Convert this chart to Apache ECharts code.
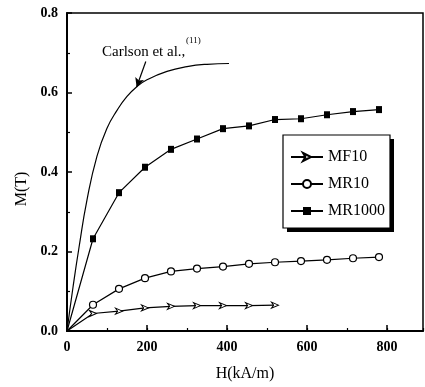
<!DOCTYPE html>
<html>
<head>
<meta charset="utf-8">
<script src="https://cdn.jsdelivr.net/npm/echarts@6/dist/echarts.min.js"></script>
<style>
html,body{margin:0;padding:0;background:#fff;}
#chart{width:425px;height:387px;}
</style>
</head>
<body>
<div id="chart"></div>
<script>
// ---- data ----
const hMF10 = [0, 65, 130, 195, 260, 325, 390, 455, 520];
const mMF10 = [0, 0.044, 0.050, 0.058, 0.062, 0.064, 0.064, 0.064, 0.065];
const hMR = [0, 65, 130, 195, 260, 325, 390, 455, 520, 585, 650, 715, 780];
const mMR10 = [0, 0.066, 0.106, 0.133, 0.150, 0.157, 0.162, 0.169, 0.173, 0.176, 0.179, 0.183, 0.186];
const mMR1000 = [0, 0.232, 0.348, 0.412, 0.457, 0.483, 0.509, 0.516, 0.532, 0.534, 0.544, 0.552, 0.557];
const hCarlson = [0, 15, 30, 50, 75, 100, 125, 150, 175, 200, 250, 300, 350, 405];
const mCarlson = [0, 0.11, 0.21, 0.33, 0.44, 0.51, 0.555, 0.59, 0.615, 0.632, 0.653, 0.665, 0.671, 0.673];
const arrowFrom = [197, 0.678];
const arrowTo = [174, 0.614];
const seriesNames = ['MF10', 'MR10', 'MR1000'];
const xTicks = [0, 200, 400, 600, 800];
const yTicks = [0.0, 0.2, 0.4, 0.6, 0.8];

const SERIF = '"Liberation Serif","DejaVu Serif",serif';

function pairs(xs, ys) {
  return xs.map((x, i) => i === 0 ? { value: [x, ys[i]], symbol: 'none' } : [x, ys[i]]);
}

const lineStyle = { color: '#000', width: 1.2 };

const chart = echarts.init(document.getElementById('chart'), null, { renderer: 'canvas' });
chart.setOption({
  animation: false,
  backgroundColor: '#fff',
  grid: { left: 67, top: 13, width: 356, height: 322, show: true, borderColor: '#000', borderWidth: 1.5, backgroundColor: 'transparent' },
  xAxis: [{
    type: 'value', min: 0, max: 890, interval: 200,
    axisLine: { show: true, lineStyle: { color: '#000', width: 2 } },
    axisTick: { show: true, inside: true, length: 6, lineStyle: { color: '#000', width: 1.5 } },
    axisLabel: { color: '#000', fontFamily: SERIF, fontWeight: 'bold', fontSize: 14, margin: 9, showMaxLabel: false,
      formatter: v => xTicks.includes(v) ? String(v) : '' },
    splitLine: { show: false },
    name: 'H(kA/m)', nameLocation: 'middle', nameGap: 35,
    nameTextStyle: { color: '#000', fontFamily: SERIF, fontSize: 16 }
  }, {
    type: 'value', min: 0, max: 890, interval: 100, position: 'bottom',
    axisLine: { show: false },
    axisTick: { show: true, inside: true, length: 3, lineStyle: { color: '#000', width: 1.2 } },
    axisLabel: { show: false }, splitLine: { show: false }
  }],
  yAxis: {
    type: 'value', min: 0, max: 0.8, interval: 0.2,
    axisLine: { show: true, lineStyle: { color: '#000', width: 2 } },
    axisTick: { show: true, inside: true, length: 5, lineStyle: { color: '#000', width: 1.5 } },
    minorTick: { show: true, splitNumber: 2, length: 3, lineStyle: { color: '#000', width: 1.2 } },
    axisLabel: { color: '#000', fontFamily: SERIF, fontWeight: 'bold', fontSize: 14, margin: 9,
      formatter: v => yTicks.some(t => Math.abs(t - v) < 1e-9) ? v.toFixed(1) : '' },
    splitLine: { show: false }
  },
  legend: {
    orient: 'vertical', left: 283, top: 135, z: 10,
    data: seriesNames,
    backgroundColor: 'transparent', borderWidth: 0,
    padding: [14, 8, 10, 7], itemGap: 11, itemWidth: 32, itemHeight: 10,
    textStyle: { color: '#000', fontFamily: SERIF, fontSize: 16 }
  },
  series: [{
    name: 'MF10', type: 'line', data: pairs(hMF10, mMF10),
    symbol: 'path://M0,0L10,5L0,10L3,5Z', symbolSize: [7, 6],
    itemStyle: { color: '#fff', borderColor: '#000', borderWidth: 1 },
    lineStyle: lineStyle
  }, {
    name: 'MR10', type: 'line', data: pairs(hMR, mMR10),
    symbol: 'circle', symbolSize: 7,
    itemStyle: { color: '#fff', borderColor: '#000', borderWidth: 1.2 },
    lineStyle: lineStyle
  }, {
    name: 'MR1000', type: 'line', data: pairs(hMR, mMR1000),
    symbol: 'rect', symbolSize: [6, 7],
    itemStyle: { color: '#000', borderColor: '#000', borderWidth: 0 },
    lineStyle: lineStyle
  }, {
    name: 'Carlson', type: 'line', data: hCarlson.map((x, i) => [x, mCarlson[i]]),
    showSymbol: false, symbol: 'none', smooth: 0.5,
    lineStyle: lineStyle,
    markLine: {
      silent: true, symbol: ['none', 'arrow'], symbolSize: [7, 9],
      lineStyle: { color: '#000', width: 1.2, type: 'solid' },
      label: { show: false },
      data: [[{ coord: arrowFrom }, { coord: arrowTo }]]
    }
  }],
  graphic: [{
    type: 'rect', z: 1, shape: { x: 287, y: 139, width: 107, height: 93 },
    style: { fill: '#000' }
  }, {
    type: 'rect', z: 2, shape: { x: 283, y: 135, width: 107, height: 93 },
    style: { fill: '#fff', stroke: '#000', lineWidth: 1.2 }
  }, {
    type: 'text', left: 102, top: 45,
    style: { text: 'Carlson et al.,', font: '15px ' + SERIF, fill: '#000' }
  }, {
    type: 'text', left: 186, top: 36,
    style: { text: '(11)', font: '9px ' + SERIF, fill: '#000' }
  }, {
    type: 'text', x: 22, y: 189, rotation: Math.PI / 2,
    style: { text: 'M(T)', font: '16px ' + SERIF, fill: '#000', textAlign: 'center', textVerticalAlign: 'middle' }
  }]
});
</script>
</body>
</html>
